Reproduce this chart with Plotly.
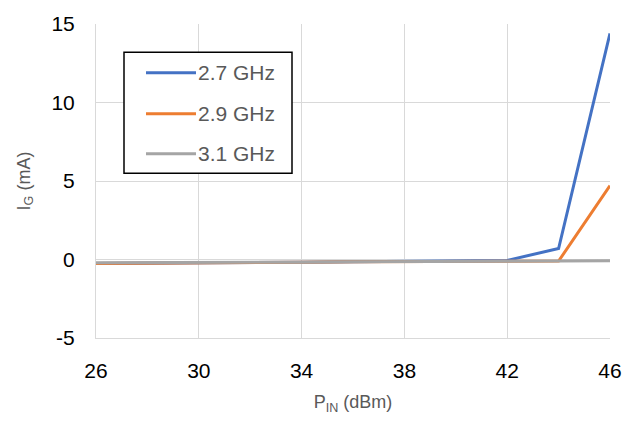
import plotly.graph_objects as go

p_in = [26, 28, 30, 32, 34, 36, 38, 40, 42, 44, 46]
ig_27 = [-0.25, -0.24, -0.22, -0.2, -0.18, -0.15, -0.12, -0.1, -0.06, 0.7, 14.4]
ig_29 = [-0.25, -0.24, -0.22, -0.2, -0.17, -0.14, -0.12, -0.1, -0.1, -0.1, 4.7]
ig_31 = [-0.2, -0.2, -0.19, -0.18, -0.17, -0.15, -0.13, -0.12, -0.11, -0.1, -0.08]
series_names = ["2.7 GHz", "2.9 GHz", "3.1 GHz"]
colors = ["#4472C4", "#ED7D31", "#A5A5A5"]
x_ticks = [26, 30, 34, 38, 42, 46]
y_ticks = [-5, 0, 5, 10, 15]
y_tick_text = ["-5", "0", "5", "10", "15"]

W, H = 637, 421
L, R, T, B = 96, 610, 20, 342

def px(x):
    return (x - L) / (R - L)

def py(y):
    return (B - y) / (B - T)

fig = go.Figure()
for name, vals, c in zip(series_names, [ig_27, ig_29, ig_31], colors):
    fig.add_trace(go.Scatter(x=p_in, y=vals, mode="lines", name=name,
                             line=dict(color=c, width=3), showlegend=False))

font = "Liberation Sans, Arial, sans-serif"

# legend box drawn by hand (Excel-style)
shapes = [dict(type="rect", xref="paper", yref="paper",
               x0=px(124), x1=px(292), y0=py(173), y1=py(49),
               line=dict(color="black", width=1.5), fillcolor="white", layer="above")]
annotations = []
for i, (name, c) in enumerate(zip(series_names, colors)):
    yy = [70, 112, 153][i]
    shapes.append(dict(type="line", xref="paper", yref="paper",
                       x0=px(146), x1=px(196), y0=py(yy), y1=py(yy),
                       line=dict(color=c, width=3), layer="above"))
    annotations.append(dict(xref="paper", yref="paper", x=px(196), y=py(yy),
                            text=name, showarrow=False, xanchor="left", yanchor="middle",
                            font=dict(family=font, size=21, color="#595959")))

fig.update_layout(
    width=W, height=H,
    margin=dict(l=L, r=W - R, t=T, b=H - B),
    paper_bgcolor="white", plot_bgcolor="white",
    font=dict(family=font, color="#000000"),
    shapes=shapes, annotations=annotations,
    xaxis=dict(range=[26, 46], tickvals=x_ticks, showgrid=True, gridcolor="#D9D9D9",
               gridwidth=1, zeroline=False, showline=True, linecolor="#D9D9D9",
               tickfont=dict(size=21, color="#000000"), ticklabelstandoff=14,
               title=dict(text="P<sub>IN</sub> (dBm)", font=dict(size=18, color="#595959"),
                          standoff=14)),
    yaxis=dict(range=[-5, 15], tickvals=y_ticks, ticktext=y_tick_text, showgrid=True,
               gridcolor="#D9D9D9", gridwidth=1, zeroline=False, showline=True,
               linecolor="#D9D9D9",
               tickfont=dict(size=21, color="#000000"), ticklabelstandoff=16,
               title=dict(text="I<sub>G</sub> (mA)", font=dict(size=18, color="#595959"),
                          standoff=16)),
)

fig.write_html("out.html", config={"displayModeBar": False},
               post_script="document.body.style.margin='0';")
